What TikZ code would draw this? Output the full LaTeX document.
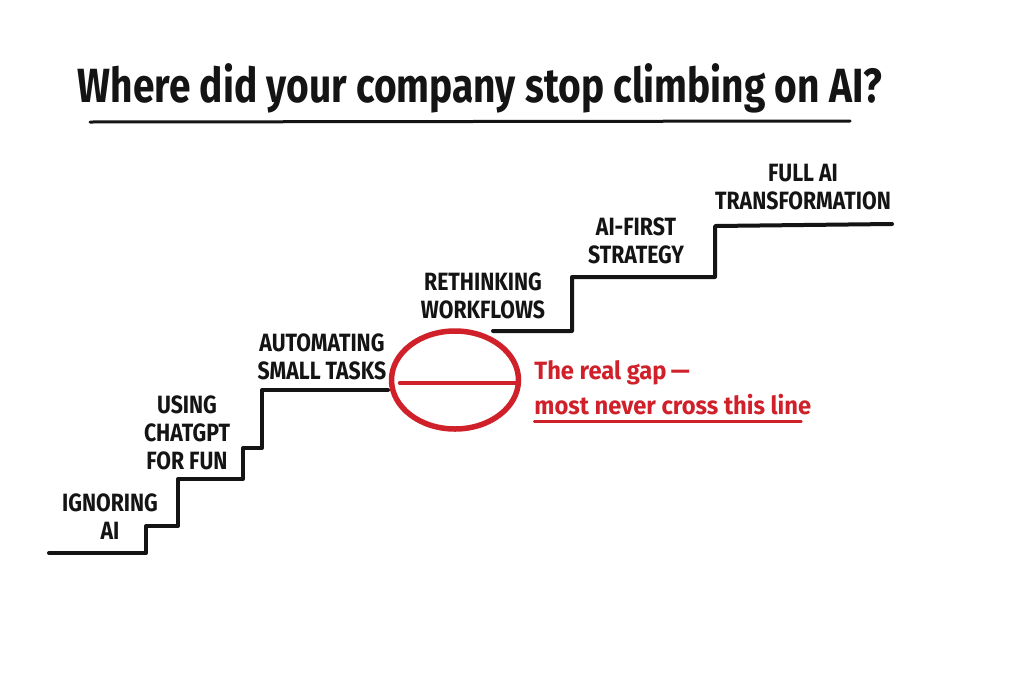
\documentclass[tikz,border=0pt]{standalone}
\usepackage{fontspec}
\setmainfont{Fira Sans}
\newfontfamily\stepfont[FakeStretch=0.85]{Fira Sans}
\newfontfamily\handfont[FakeStretch=0.81]{Fira Sans}
\newfontfamily\notefont[FakeStretch=0.95]{Fira Sans}
\usetikzlibrary{positioning,shapes.geometric}
\definecolor{StairInk}{HTML}{141414}
\definecolor{GapRed}{HTML}{D0212B}
\tikzset{
  steplabel/.style={font=\stepfont\bfseries\fontsize{25}{28}\selectfont, text=StairInk, align=center, inner sep=0pt},
  stairline/.style={draw=StairInk, line width=4pt, line join=round, line cap=round},
  gapring/.style={ellipse, draw=GapRed, line width=5.5pt, minimum width=127pt, minimum height=98pt, inner sep=0pt},
  gapline/.style={draw=GapRed, line width=4pt, line cap=round},
  gapnote/.style={font=\notefont\bfseries\fontsize{25}{35}\selectfont, text=GapRed, align=left, inner sep=0pt},
  figtitle/.style={font=\handfont\bfseries\fontsize{48}{52}\selectfont, text=StairInk, inner sep=0pt},
  titlerule/.style={draw=StairInk, line width=3pt, line cap=round}
}
\begin{document}
\begin{tikzpicture}[x=1pt, y=-1pt]
\useasboundingbox[fill=white] (0,0) rectangle (1024,675);
% title
\node[figtitle] (title) at (480,88) {Where did your company stop climbing on AI?};
\coordinate (rulestart) at (90,122);
\coordinate (ruleend) at (850,121);
\draw[titlerule] (rulestart) -- (ruleend);
% lower stairs
\draw[stairline] (49,553) -- (146,553) -- (146,526) -- (178,526) -- (178,479) -- (243,479)
  -- (243,448) -- (262,448) -- (262,390) -- (388,390);
% upper stairs
\draw[stairline] (493,331) -- (572,331) -- (572,277) -- (715,277) -- (715,226) -- (892,224);
% step labels
\node[steplabel] (ignoring) at (110,517) {IGNORING\\AI};
\node[steplabel] (chatgpt) at (187,433) {USING\\CHATGPT\\FOR FUN};
\node[steplabel] (automating) at (322,357) {AUTOMATING\\SMALL TASKS};
\node[steplabel] (rethinking) at (483,296) {RETHINKING\\WORKFLOWS};
\node[steplabel] (aifirst) at (636,241) {AI-FIRST\\STRATEGY};
\node[steplabel] (fullai) at (803,187) {FULL AI\\TRANSFORMATION};
% the gap
\node[gapring] (gap) at (455,380) {};
\draw[gapline] ([xshift=11pt,yshift=-3pt]gap.west) -- ([xshift=-5pt,yshift=-3pt]gap.east);
\node[gapnote, anchor=west, right=13pt of gap, yshift=-8pt] (note) {The real gap\,—\\most never cross this line};
\draw[gapline, line width=2.5pt] ([yshift=-6pt]note.south west) -- ([xshift=-10pt,yshift=-6pt]note.south east);
\end{tikzpicture}
\end{document}
